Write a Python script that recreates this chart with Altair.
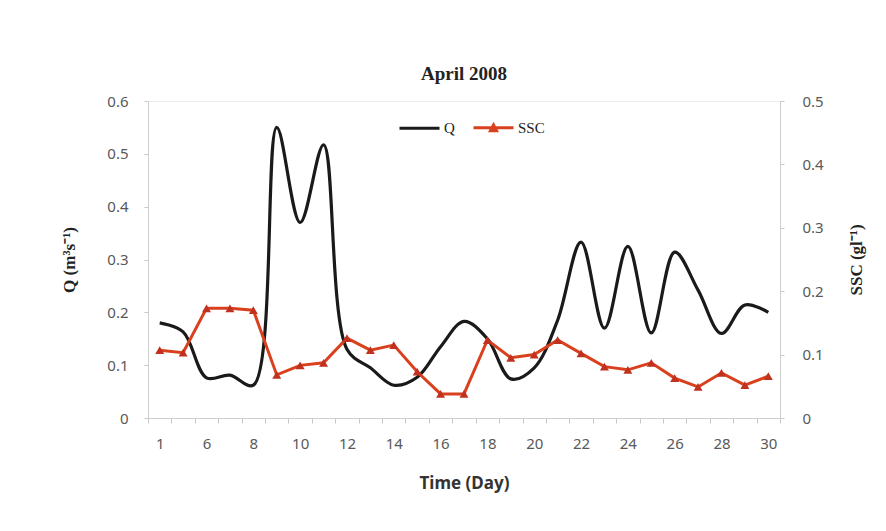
import altair as alt
import pandas as pd

days = ["1", "5", "6", "7", "8", "9", "10", "11", "12", "13", "14", "15", "16", "17",
        "18", "19", "20", "21", "22", "23", "24", "25", "26", "27", "28", "29", "30"]
q_values = [0.18, 0.163, 0.076, 0.081, 0.062, 0.55, 0.37, 0.517, 0.13, 0.095, 0.062,
            0.077, 0.135, 0.183, 0.15, 0.074, 0.095, 0.185, 0.333, 0.17, 0.325, 0.161,
            0.314, 0.242, 0.16, 0.214, 0.2]
ssc_values = [0.107, 0.103, 0.173, 0.173, 0.170, 0.068, 0.083, 0.087, 0.126, 0.107,
              0.115, 0.073, 0.038, 0.038, 0.123, 0.095, 0.1, 0.123, 0.102, 0.081,
              0.076, 0.087, 0.063, 0.049, 0.071, 0.052, 0.066]
shown_labels = ["1", "6", "8", "10", "12", "14", "16", "18", "20", "22", "24", "26", "28", "30"]
series_names = ["Q", "SSC"]
series_colors = ["#1a1a1a", "#d9411e"]

df = pd.DataFrame({"day": days, "Q": q_values, "SSC": ssc_values})

label_list = "[" + ",".join("'" + s + "'" for s in shown_labels) + "]"
label_expr = f"indexof({label_list}, datum.value) >= 0 ? datum.value : ''"

axis_label = dict(labelFont="Noto Sans", labelFontSize=15, labelColor="#595959",
                  domainColor="#cfcfcf", tickColor="#c8c8c8", grid=False)

x = alt.X("day:O", sort=days,
          scale=alt.Scale(type="band", paddingInner=0, paddingOuter=0),
          axis=alt.Axis(title="Time (Day)", labelExpr=label_expr, labelAngle=0,
                        tickBand="extent", tickSize=5, labelPadding=13,
                        titleFont="Noto Sans", titleFontSize=17, titleFontWeight="bold",
                        titleColor="#333333", titlePadding=24, **axis_label))

color = alt.Color("series:N",
                  scale=alt.Scale(domain=series_names, range=series_colors),
                  legend=alt.Legend(
                      orient="none", legendX=250, legendY=5, direction="horizontal",
                      title=None, symbolSize=1600, symbolStrokeWidth=3,
                      labelFont="Liberation Serif", labelFontSize=15, labelColor="#222222",
                      labelOffset=3, columnPadding=12,
                      symbolType=alt.ExprRef(expr="datum.value === 'SSC' ? 'M-1,0H1M-0.15,0.14L0,-0.14L0.15,0.14Z' : 'M-1,0H1'"),
                      symbolFillColor=alt.ExprRef(expr="datum.value === 'SSC' ? '#c0311f' : 'transparent'"),
                  ))

base = alt.Chart(df)

q_line = base.transform_calculate(series="'Q'").mark_line(
    strokeWidth=3.2, interpolate="catmull-rom").encode(
    x=x,
    y=alt.Y("Q:Q", scale=alt.Scale(domain=[0, 0.6]),
            axis=alt.Axis(title="Q (m³s⁻¹)", values=[0, 0.1, 0.2, 0.3, 0.4, 0.5, 0.6],
                          format=".1~f", tickSize=4, labelPadding=16,
                          titleFont="Liberation Serif", titleFontSize=17,
                          titleFontWeight="bold", titleColor="#222222", titlePadding=28,
                          **axis_label)),
    color=color)

ssc_y = alt.Y("SSC:Q", scale=alt.Scale(domain=[0, 0.5]),
              axis=alt.Axis(title="SSC (gl⁻¹)", orient="right",
                            values=[0, 0.1, 0.2, 0.3, 0.4, 0.5],
                            format=".1~f", tickSize=4, labelPadding=18, titleAngle=270,
                            titleFont="Liberation Serif", titleFontSize=17,
                            titleFontWeight="bold", titleColor="#222222", titlePadding=42,
                            **axis_label))

ssc_line = base.transform_calculate(series="'SSC'").mark_line(strokeWidth=3).encode(
    x=x, y=ssc_y, color=color)
ssc_pts = base.mark_point(shape="triangle-up", filled=True, size=80, opacity=1,
                          color="#c0311f").encode(x=x, y=ssc_y)

chart = alt.layer(q_line, alt.layer(ssc_line, ssc_pts)).resolve_scale(
    y="independent").properties(
    width=632, height=317,
    autosize=alt.AutoSizeParams(type="none"),
    padding={"left": 140, "top": 93, "right": 94, "bottom": 100},
    title=alt.TitleParams("April 2008", font="Liberation Serif", fontSize=19,
                          fontWeight="bold", color="#222222", offset=10),
    background="white",
).configure_view(stroke="#ececec")

chart.save("out.html", embed_options={"renderer": "svg", "actions": False})
